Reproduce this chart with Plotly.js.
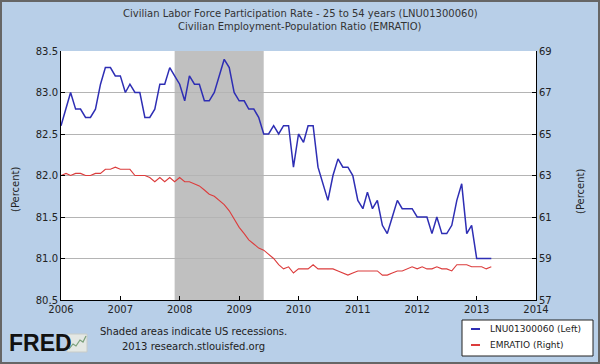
<!DOCTYPE html>
<html><head><meta charset="utf-8">
<script src="https://cdn.plot.ly/plotly-3.0.1.min.js"></script>
<style>
html,body{margin:0;padding:0;background:#ffffff;}
#frame{position:absolute;left:0;top:0;width:596px;height:360px;border:2px solid #666;}
#chart{width:596px;height:360px;}
</style></head>
<body><div id="frame"><div id="chart"></div></div>
<script>
// ---- data ----
const startYear = 2006;
const lfpr2554 = [ // LNU01300060 (left axis)
  82.6, 82.8, 83.0, 82.8, 82.8, 82.7, 82.7, 82.8, 83.1, 83.3, 83.3, 83.2,
  83.2, 83.0, 83.1, 83.0, 83.0, 82.7, 82.7, 82.8, 83.1, 83.1, 83.3, 83.2,
  83.1, 82.9, 83.2, 83.1, 83.1, 82.9, 82.9, 83.0, 83.2, 83.4, 83.3, 83.0,
  82.9, 82.9, 82.8, 82.8, 82.7, 82.5, 82.5, 82.6, 82.5, 82.6, 82.6, 82.1,
  82.5, 82.4, 82.6, 82.6, 82.1, 81.9, 81.7, 82.0, 82.2, 82.1, 82.1, 82.0,
  81.7, 81.6, 81.8, 81.6, 81.7, 81.4, 81.3, 81.5, 81.7, 81.6, 81.6, 81.6,
  81.5, 81.5, 81.5, 81.3, 81.5, 81.3, 81.3, 81.4, 81.7, 81.9, 81.3, 81.4,
  81.0, 81.0, 81.0, 81.0
];
const emratio = [ // EMRATIO (right axis)
  63.0, 63.1, 63.0, 63.1, 63.1, 63.0, 63.0, 63.1, 63.1, 63.3, 63.3, 63.4,
  63.3, 63.3, 63.3, 63.0, 63.0, 63.0, 62.9, 62.7, 62.9, 62.7, 62.9, 62.7,
  62.9, 62.7, 62.7, 62.6, 62.5, 62.3, 62.1, 62.0, 61.8, 61.6, 61.3, 60.9,
  60.5, 60.2, 59.9, 59.7, 59.5, 59.4, 59.2, 59.0, 58.7, 58.5, 58.6, 58.3,
  58.5, 58.5, 58.5, 58.7, 58.5, 58.5, 58.5, 58.5, 58.4, 58.3, 58.2, 58.3,
  58.4, 58.4, 58.4, 58.4, 58.4, 58.2, 58.2, 58.3, 58.4, 58.4, 58.5, 58.6,
  58.5, 58.6, 58.5, 58.5, 58.6, 58.5, 58.5, 58.4, 58.7, 58.7, 58.7, 58.6,
  58.6, 58.6, 58.5, 58.6
];
const seriesNames = ["LNU01300060 (Left)", "EMRATIO (Right)"];
const seriesColors = ["#2e2eb4", "#dc3c3c"];
const recessions = [["2007-12-01", "2009-06-01"]];
const xTickYears = ["2006","2007","2008","2009","2010","2011","2012","2013","2014"];
const leftTicks = [80.5, 81.0, 81.5, 82.0, 82.5, 83.0, 83.5];
const rightTicks = [57, 59, 61, 63, 65, 67, 69];
const titleLines = ["Civilian Labor Force Participation Rate - 25 to 54 years (LNU01300060)",
                    "Civilian Employment-Population Ratio (EMRATIO)"];

// monthly dates
const dates = lfpr2554.map((_, i) => {
  const y = startYear + Math.floor(i / 12);
  const m = (i % 12) + 1;
  return y + "-" + (m < 10 ? "0" + m : m) + "-01";
});

// ---- layout helpers (page pixel -> paper) ----
const PL = 61, PR = 536, PT = 51, PB = 300;
const px = a => (a - PL) / (PR - PL);
const py = a => (PB - a) / (PB - PT);

const FONT = "DejaVu Sans, Verdana, sans-serif";

const traces = [
  {x: dates, y: lfpr2554, type: "scatter", mode: "lines", name: seriesNames[0],
   line: {color: seriesColors[0], width: 1.5}, yaxis: "y"},
  {x: dates, y: emratio, type: "scatter", mode: "lines", name: seriesNames[1],
   line: {color: seriesColors[1], width: 1.1}, yaxis: "y2"}
];

const shapes = recessions.map(r => ({
  type: "rect", xref: "x", yref: "paper", x0: r[0], x1: r[1], y0: 0, y1: 1,
  fillcolor: "#c0c0c0", line: {width: 0}, layer: "between"
}));
// FRED logo icon
shapes.push({type: "rect", xref: "paper", yref: "paper",
  x0: px(67), x1: px(87), y0: py(352), y1: py(334),
  fillcolor: "#e4e8e4", line: {color: "#c8ccc8", width: 1}});
shapes.push({type: "path", xref: "paper", yref: "paper",
  path: "M" + px(69) + "," + py(349) + " L" + px(73) + "," + py(344) + " L" + px(76) + "," + py(346) +
        " L" + px(80) + "," + py(340) + " L" + px(83) + "," + py(342) + " L" + px(86) + "," + py(336),
  line: {color: "#7aa07a", width: 1.2}});
// legend box
shapes.push({type: "rect", xref: "paper", yref: "paper",
  x0: px(462), x1: px(593), y0: py(356), y1: py(320),
  fillcolor: "#ffffff", line: {color: "#222", width: 1}});

function note(text, x, y, opts) {
  return Object.assign({text: text, xref: "paper", yref: "paper", x: px(x), y: py(y),
    xanchor: "center", yanchor: "middle", showarrow: false,
    font: {family: FONT, size: 10, color: "#222"}}, opts || {});
}

const annotations = [
  note(titleLines[0], 300, 13, {font: {family: FONT, size: 10, color: "#333"}}),
  note(titleLines[1], 300, 27, {font: {family: FONT, size: 10, color: "#333"}}),
  note("(Percent)", 15, 189, {textangle: -90}),
  note("(Percent)", 580, 191, {textangle: -90}),
  note("Shaded areas indicate US recessions.", 193, 331),
  note("2013 research.stlouisfed.org", 193, 346),
  note("<b>FRED</b>", 7, 343, {xanchor: "left",
    font: {family: "Liberation Sans, Arial, sans-serif", size: 23, color: "#111"}})
];
// legend entries
seriesNames.forEach((n, i) => {
  const yy = 329 + i * 16;
  shapes.push({type: "line", xref: "paper", yref: "paper", x0: px(471), x1: px(480), y0: py(yy), y1: py(yy),
    line: {color: seriesColors[i], width: 2}});
  annotations.push(note(n, 488, yy, {xanchor: "left", font: {family: FONT, size: 9, color: "#222"}}));
});

const layout = {
  width: 596, height: 360,
  margin: {l: PL - 2, r: 600 - PR - 2, t: PT - 2, b: 364 - PB - 2, pad: 0},
  paper_bgcolor: "#b8cfe8", plot_bgcolor: "#ffffff",
  font: {family: FONT, size: 10, color: "#222"},
  xaxis: {type: "date", range: ["2006-01-01", "2014-01-01"],
          tickvals: xTickYears.map(y => y + "-01-01"), ticktext: xTickYears,
          ticks: "inside", ticklen: 4, tickcolor: "#000", showline: true, linecolor: "#000", linewidth: 1,
          showgrid: false, zeroline: false, tickfont: {family: FONT, size: 10, color: "#222"}},
  yaxis: {range: [80.5, 83.5], tickvals: leftTicks, ticktext: leftTicks.map(v => v.toFixed(1)),
          ticks: "inside", ticklen: 4, tickcolor: "#000", showline: true, linecolor: "#000", linewidth: 1,
          showgrid: true, gridcolor: "#b4b4b4", gridwidth: 1, zeroline: false,
          tickfont: {family: FONT, size: 10, color: "#222"}},
  yaxis2: {range: [57, 69], tickvals: rightTicks, ticktext: rightTicks.map(String),
           overlaying: "y", side: "right", anchor: "x",
           ticks: "inside", ticklen: 4, tickcolor: "#000", showline: true, linecolor: "#000", linewidth: 1,
           showgrid: false, zeroline: false, tickfont: {family: FONT, size: 10, color: "#222"}},
  showlegend: false,
  shapes: shapes,
  annotations: annotations
};

Plotly.newPlot("chart", traces, layout, {displayModeBar: false, staticPlot: true});
</script>
</body></html>
